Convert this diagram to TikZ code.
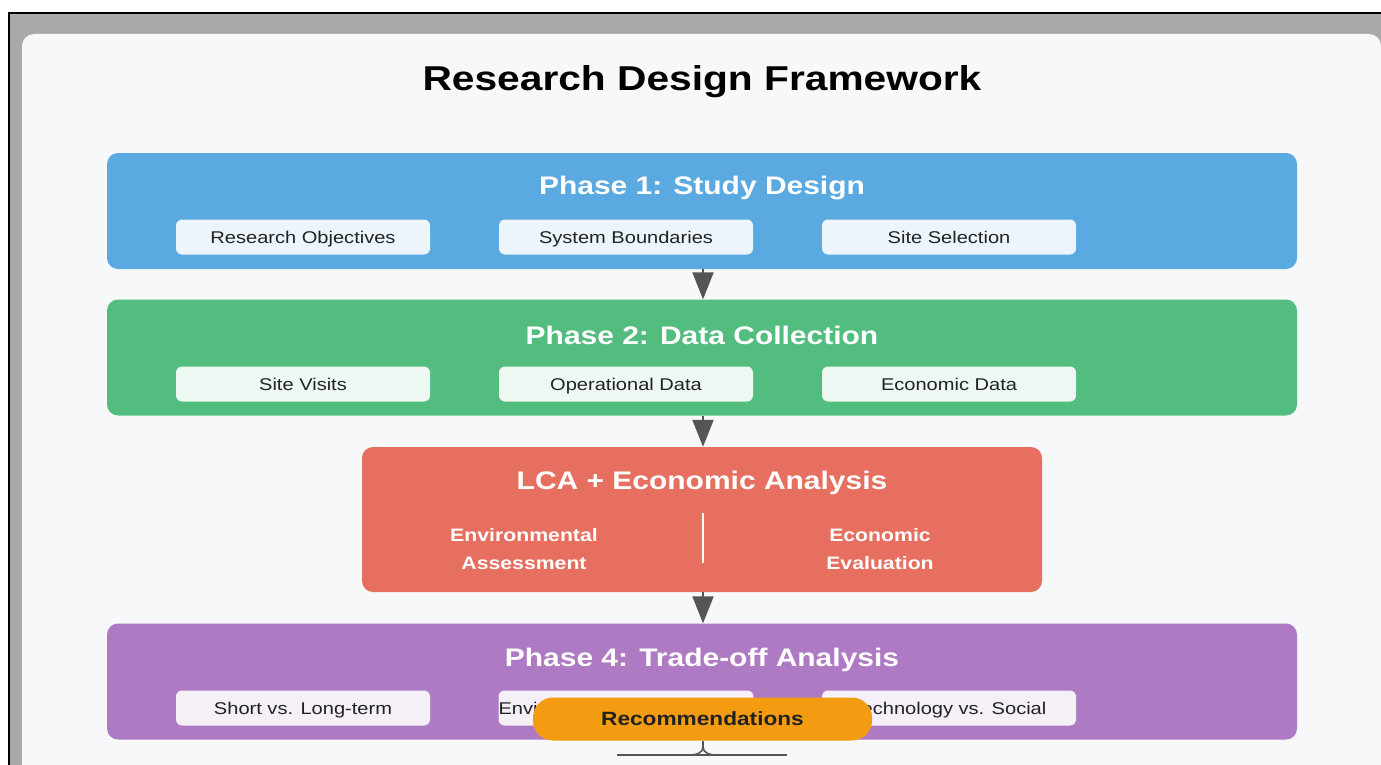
\documentclass[tikz,border=0pt]{standalone}
\usepackage{fontspec}
\setmainfont{Liberation Sans}[FakeStretch=1.18]
\usetikzlibrary{arrows.meta}

\definecolor{frame}{HTML}{A9A9A9}
\definecolor{card}{HTML}{F7F8FA}
\definecolor{studyblue}{HTML}{5AA9E0}
\definecolor{datagreen}{HTML}{52BD7E}
\definecolor{lcared}{HTML}{E76F60}
\definecolor{tradepurple}{HTML}{AE7AC4}
\definecolor{recorange}{HTML}{F39C12}
\definecolor{arrowgray}{HTML}{555555}
\definecolor{subtext}{HTML}{222222}

\begin{document}
\begin{tikzpicture}[x=1pt,y=-1pt,>={Triangle[length=27pt,width=21pt]},
		phase box/.style={rectangle,rounded corners=11pt,inner sep=0pt,minimum width=1190pt,minimum height=116pt},
		phase title/.style={text=white,font=\fontsize{25.4}{30}\selectfont\bfseries},
		sub box/.style={rectangle,rounded corners=6pt,inner sep=0pt,minimum width=254pt,minimum height=35pt,
			text height=15pt,text depth=2pt,text=subtext,font=\fontsize{17}{20}\selectfont},
		flow/.style={->,draw=arrowgray,line width=2pt}]
	\useasboundingbox (0,0) rectangle (1381,765);
	% frame and card
	\fill[white] (0,0) rectangle (1381,765);
	\fill[frame] (10,14) rectangle (1381,765);
	\draw[black,line width=2pt] (9,780) -- (9,13) -- (1381,13);
	\fill[card,rounded corners=12pt] (22,34) rectangle (1381,780);

	\node[font=\fontsize{34.5}{40}\selectfont\bfseries] (title) at (702,82) {Research Design Framework};

	% phase 1
	\node[phase box,fill=studyblue] (p1) at (702,211) {};
	\node[phase title] (p1t) at (702,188) {Phase 1: Study Design};
	\node[sub box,fill=studyblue!12!white] (p1a) at (303,237) {Research Objectives};
	\node[sub box,fill=studyblue!12!white] (p1b) at (626,237) {System Boundaries};
	\node[sub box,fill=studyblue!12!white] (p1c) at (949,237) {Site Selection};

	% phase 2
	\node[phase box,fill=datagreen] (p2) at (702,357.5) {};
	\node[phase title] (p2t) at (702,335) {Phase 2: Data Collection};
	\node[sub box,fill=datagreen!10!white] (p2a) at (303,384) {Site Visits};
	\node[sub box,fill=datagreen!10!white] (p2b) at (626,384) {Operational Data};
	\node[sub box,fill=datagreen!10!white] (p2c) at (949,384) {Economic Data};

	% phase 3
	\node[phase box,fill=lcared,minimum width=680pt,minimum height=145pt] (p3) at (702,519.5) {};
	\node[phase title] (p3t) at (702,483) {LCA + Economic Analysis};
	\node[text=white,align=center,font=\fontsize{18}{28}\selectfont\bfseries] (env) at (524,549) {Environmental\\Assessment};
	\node[text=white,align=center,font=\fontsize{18}{28}\selectfont\bfseries] (eco) at (880,549) {Economic\\Evaluation};
	\coordinate (divtop) at (703,513);
	\coordinate (divbot) at (703,563);
	\draw[white,line width=2pt] (divtop) -- (divbot);

	% phase 4
	\node[phase box,fill=tradepurple] (p4) at (702,681.5) {};
	\node[phase title] (p4t) at (702,660) {Phase 4: Trade-off Analysis};
	\node[sub box,fill=tradepurple!12!white] (p4a) at (303,708) {Short vs. Long-term};
	\node[sub box,fill=tradepurple!12!white] (p4b) at (626,708) {Environmental vs. Economic};
	\node[sub box,fill=tradepurple!12!white] (p4c) at (949,708) {Technology vs. Social};

	\node[rectangle,rounded corners=20pt,fill=recorange,minimum width=339pt,minimum height=43pt,inner sep=0pt,
		text=subtext,font=\fontsize{19.2}{22}\selectfont\bfseries] (rec) at (702.5,719) {Recommendations};

	\path
	([xshift=1pt]p1.south) edge[flow] ([xshift=1pt]p2.north);
	\path
	([xshift=1pt]p2.south) edge[flow] ([xshift=1pt]p3.north);
	\path
	([xshift=1pt]p3.south) edge[flow] ([xshift=1pt]p4.north);

	% stub under recommendations
	\coordinate (stem) at (703,747);
	\coordinate (footL) at (617,755);
	\coordinate (footR) at (787,755);
	\draw[arrowgray,line width=2pt] ([xshift=0.5pt]rec.south) -- (stem);
	\draw[arrowgray,line width=2pt] (footL) -- (footR);
	\draw[arrowgray,line width=1.5pt] (stem) to[out=-90,in=0] (690,755);
	\draw[arrowgray,line width=1.5pt] (stem) to[out=-90,in=180] (716,755);

\end{tikzpicture}
\end{document}
